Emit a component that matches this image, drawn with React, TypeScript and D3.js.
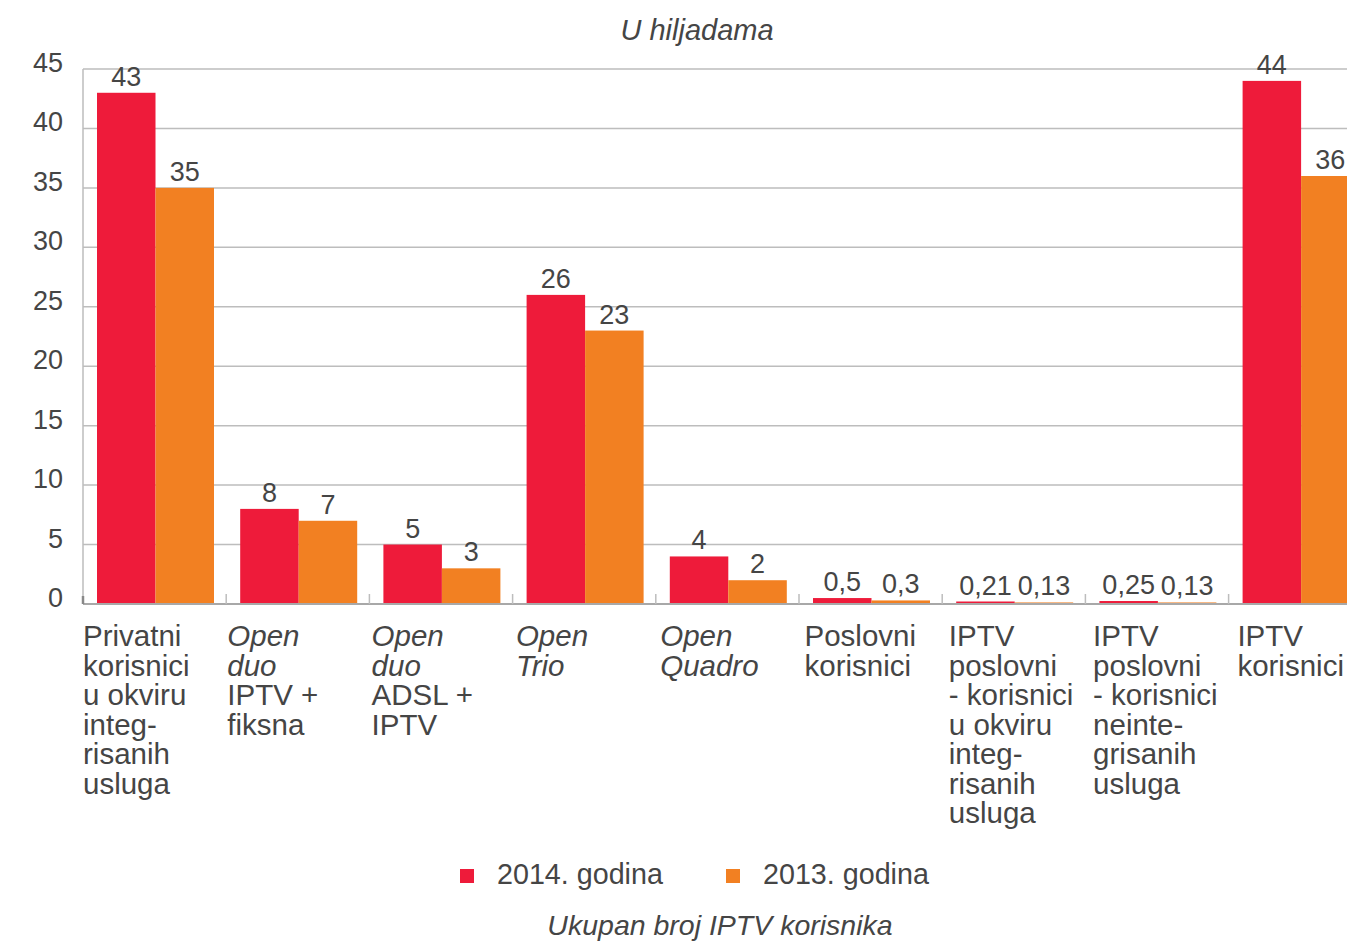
import React, { useEffect, useRef } from "react";
import * as d3 from "d3";

// category labels, line by line; first N lines of each are italic
const categoryLines: string[][] = [
  ["Privatni", "korisnici", "u okviru", "integ-", "risanih", "usluga"],
  ["Open", "duo", "IPTV +", "fiksna"],
  ["Open", "duo", "ADSL +", "IPTV"],
  ["Open", "Trio"],
  ["Open", "Quadro"],
  ["Poslovni", "korisnici"],
  ["IPTV", "poslovni", "- korisnici", "u okviru", "integ-", "risanih", "usluga"],
  ["IPTV", "poslovni", "- korisnici", "neinte-", "grisanih", "usluga"],
  ["IPTV", "korisnici"],
];
const italicLines = [0, 2, 2, 2, 2, 0, 0, 0, 0];

const series = ["2014. godina", "2013. godina"];
const values2014 = [43, 8, 5, 26, 4, 0.5, 0.21, 0.25, 44];
const values2013 = [35, 7, 3, 23, 2, 0.3, 0.13, 0.13, 36];
const yTicks = [0, 5, 10, 15, 20, 25, 30, 35, 40, 45];

const colors = ["#ee1b3a", "#f28022"];
const textColor = "#454545";
const font = "'Liberation Sans', Arial, sans-serif";

export default function App() {
  const ref = useRef<SVGSVGElement>(null);

  useEffect(() => {
    const svg = d3.select(ref.current);
    svg.selectAll("*").remove();

    const left = 83, top = 69, bottom = 604;
    const step = 143.2;
    const idx = d3.range(categoryLines.length);

    const x0 = d3.scaleBand<number>()
      .domain(idx)
      .range([left, left + step * idx.length])
      .paddingInner(0)
      .paddingOuter(0);
    const x1 = d3.scaleBand<number>()
      .domain([0, 1])
      .range([14, 131]);
    const y = d3.scaleLinear().domain([0, 45]).range([bottom, top]);

    // gridlines
    svg.append("g")
      .selectAll("line")
      .data(yTicks.filter((t) => t > 0))
      .enter().append("line")
      .attr("x1", left)
      .attr("x2", 1347)
      .attr("y1", (d) => y(d))
      .attr("y2", (d) => y(d))
      .attr("stroke", "#bdbdbd")
      .attr("stroke-width", 1.5);

    // left axis line
    svg.append("line")
      .attr("x1", left).attr("x2", left)
      .attr("y1", y(45)).attr("y2", bottom)
      .attr("stroke", "#bdbdbd")
      .attr("stroke-width", 1.5);

    // y tick labels
    svg.append("g")
      .selectAll("text")
      .data(yTicks)
      .enter().append("text")
      .attr("x", 63)
      .attr("y", (d) => y(d) + 3)
      .attr("text-anchor", "end")
      .attr("font-family", font)
      .attr("font-size", 27)
      .attr("fill", textColor)
      .text((d) => d);

    // bars
    const data = idx.map((i) => [values2014[i], values2013[i]]);
    const groups = svg.append("g")
      .selectAll("g")
      .data(data)
      .enter().append("g")
      .attr("transform", (d, i) => "translate(" + x0(i) + ",0)");

    groups.selectAll("rect")
      .data((d) => d.map((v, k) => ({ k, v })))
      .enter().append("rect")
      .attr("x", (d) => x1(d.k)!)
      .attr("y", (d) => y(d.v))
      .attr("width", x1.bandwidth())
      .attr("height", (d) => bottom - y(d.v))
      .attr("fill", (d) => colors[d.k]);

    groups.selectAll("text")
      .data((d) => d.map((v, k) => ({ k, v })))
      .enter().append("text")
      .attr("x", (d) => x1(d.k)! + x1.bandwidth() / 2)
      .attr("y", (d) => y(d.v) - 7)
      .attr("text-anchor", "middle")
      .attr("font-family", font)
      .attr("font-size", 27)
      .attr("fill", textColor)
      .text((d) => String(d.v).replace(".", ","));

    // baseline and ticks
    svg.append("line")
      .attr("x1", left).attr("x2", 1347)
      .attr("y1", bottom).attr("y2", bottom)
      .attr("stroke", "#a8a8a8")
      .attr("stroke-width", 2);

    svg.append("g")
      .selectAll("line")
      .data(idx)
      .enter().append("line")
      .attr("x1", (i) => x0(i)!)
      .attr("x2", (i) => x0(i)!)
      .attr("y1", bottom)
      .attr("y2", (i) => (i === 0 ? bottom - 8 : bottom - 10))
      .attr("stroke", (i) => (i === 0 ? "#888" : "#bdbdbd"))
      .attr("stroke-width", (i) => (i === 0 ? 2.5 : 1.5));

    // category labels
    const labels = svg.append("g")
      .selectAll("text")
      .data(idx)
      .enter().append("text")
      .attr("font-family", font)
      .attr("font-size", 29.5)
      .attr("fill", textColor);

    labels.selectAll("tspan")
      .data((i) => categoryLines[i].map((s, j) => ({ s, j, i })))
      .enter().append("tspan")
      .attr("x", (d) => x0(d.i)! + d.i * 1.1)
      .attr("y", (d) => 646 + d.j * 29.5)
      .attr("font-style", (d) => (d.j < italicLines[d.i] ? "italic" : "normal"))
      .text((d) => d.s);

    // legend
    const legend = svg.append("g")
      .selectAll("g")
      .data(series)
      .enter().append("g")
      .attr("transform", (d, i) => "translate(" + (460 + i * 266) + ",869)");

    legend.append("rect")
      .attr("width", 14)
      .attr("height", 14)
      .attr("fill", (d, i) => colors[i]);

    legend.append("text")
      .attr("x", 37)
      .attr("y", 15)
      .attr("font-family", font)
      .attr("font-size", 28.7)
      .attr("fill", textColor)
      .text((d) => d);

    // titles
    svg.append("text")
      .attr("x", 697)
      .attr("y", 40)
      .attr("text-anchor", "middle")
      .attr("font-family", font)
      .attr("font-size", 29)
      .attr("font-style", "italic")
      .attr("fill", textColor)
      .text("U hiljadama");

    svg.append("text")
      .attr("x", 720)
      .attr("y", 935)
      .attr("text-anchor", "middle")
      .attr("font-family", font)
      .attr("font-size", 28.5)
      .attr("font-style", "italic")
      .attr("fill", textColor)
      .text("Ukupan broj IPTV korisnika");
  }, []);

  return (
    <svg
      ref={ref}
      width={1347}
      height={942}
      style={{ position: "absolute", left: 0, top: 0, background: "#fff" }}
    />
  );
}
